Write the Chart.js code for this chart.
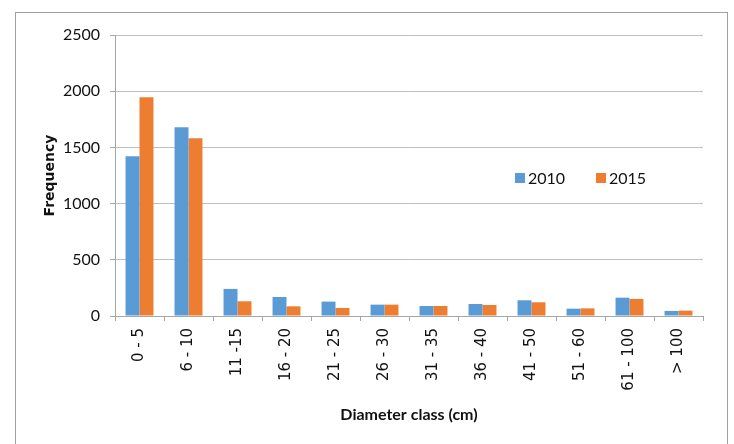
<!DOCTYPE html>
<html>
<head>
<meta charset="utf-8">
<script src="https://cdn.jsdelivr.net/npm/chart.js@4"></script>
<style>
  body { margin: 0; background: #fff; }
  #wrap { width: 734px; height: 444px; position: relative; }
</style>
</head>
<body>
<div id="wrap"><canvas id="diamChart" width="734" height="444"></canvas></div>
<script>
const classes = ['0 - 5', '6 - 10', '11 -15', '16 - 20', '21 - 25', '26 - 30',
  '31 - 35', '36 - 40', '41 - 50', '51 - 60', '61 - 100', '> 100'];
const freq2010 = [1421, 1680, 241, 169, 128, 101, 89, 107, 140, 65, 163, 45];
const freq2015 = [1947, 1581, 131, 86, 71, 101, 89, 98, 122, 68, 152, 48];
const yTicks = [0, 500, 1000, 1500, 2000, 2500];

const blue = '#5B9BD5';
const orange = '#ED7D31';
const lineGray = '#bfbfbf';
const axisGray = '#a6a6a6';
const ink = '#111';

// outer frame + legend inside the plot, like the Excel original
const framePlugin = {
  id: 'frame',
  afterDraw(chart) {
    const c = chart.ctx;
    c.save();
    c.strokeStyle = '#a0a0a0';
    c.lineWidth = 1;
    c.strokeRect(15.5, 12.5, 712, 460);

    c.font = '16px Lato';
    c.textBaseline = 'middle';
    const xs = [515, 596];
    chart.data.datasets.forEach((ds, i) => {
      c.fillStyle = ds.backgroundColor;
      c.fillRect(xs[i], 173, 10, 10);
      c.fillStyle = ink;
      c.fillText(ds.label, xs[i] + 13, 178.5);
    });
    c.restore();
  }
};

new Chart(document.getElementById('diamChart'), {
  type: 'bar',
  data: {
    labels: classes,
    datasets: [
      { label: '2010', data: freq2010, backgroundColor: blue },
      { label: '2015', data: freq2015, backgroundColor: orange }
    ]
  },
  options: {
    responsive: false,
    animation: false,
    layout: { padding: { left: 15, top: 35, right: 31, bottom: 0 } },
    datasets: { bar: { categoryPercentage: 0.57, barPercentage: 1.0 } },
    plugins: {
      legend: { display: false },
      tooltip: { enabled: false }
    },
    scales: {
      x: {
        afterFit: s => { s.height = 128; },
        grid: { drawOnChartArea: false, drawTicks: true, tickLength: 5, color: axisGray },
        border: { color: axisGray },
        ticks: {
          minRotation: 90, maxRotation: 90, autoSkip: false, padding: 7,
          color: ink, font: { family: 'DejaVu Sans', size: 15 }
        },
        title: {
          display: true, text: 'Diameter class (cm)', color: ink,
          font: { family: 'Lato', size: 16, weight: 'bold' },
          padding: { top: 0, bottom: 20 }
        }
      },
      y: {
        min: 0, max: 2500,
        afterFit: s => { s.width = 100; },
        afterBuildTicks: s => { s.ticks = yTicks.map(v => ({ value: v })); },
        grid: { color: lineGray, tickLength: 5, tickColor: axisGray },
        border: { color: axisGray },
        ticks: {
          padding: 10, color: ink,
          font: { family: 'Lato', size: 16 },
          callback: v => String(v)
        },
        title: {
          display: true, text: 'Frequency', color: ink,
          font: { family: 'DejaVu Sans', size: 14, weight: 'bold' },
          padding: { top: 27, bottom: 0 }
        }
      }
    }
  },
  plugins: [framePlugin]
});
</script>
</body>
</html>
